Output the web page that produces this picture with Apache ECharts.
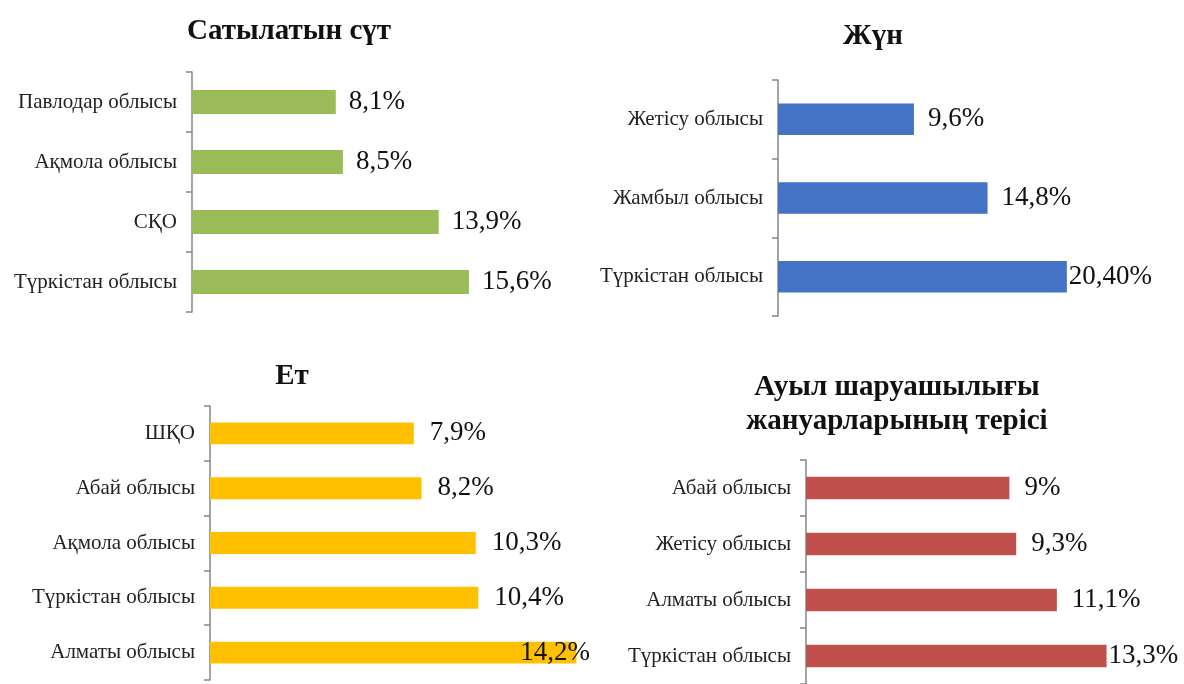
<!DOCTYPE html>
<html>
<head>
  <meta charset="utf-8">
  <title>Аймақтар</title>
  <script src="https://cdn.jsdelivr.net/npm/echarts@6/dist/echarts.min.js"></script>
  <style>
    body { margin: 0; background: #fff; }
    #chart { width: 1184px; height: 684px; }
  </style>
</head>
<body>
  <div id="chart"></div>
  <script>
    // Сатылатын сүт
    const milkRegions = ['Павлодар облысы', 'Ақмола облысы', 'СҚО', 'Түркістан облысы'];
    const milkValues = [8.1, 8.5, 13.9, 15.6];
    const milkLabels = ['8,1%', '8,5%', '13,9%', '15,6%'];

    // Жүн
    const woolRegions = ['Жетісу облысы', 'Жамбыл облысы', 'Түркістан облысы'];
    const woolValues = [9.6, 14.8, 20.4];
    const woolLabels = ['9,6%', '14,8%', '20,40%'];

    // Ет
    const meatRegions = ['ШҚО', 'Абай облысы', 'Ақмола облысы', 'Түркістан облысы', 'Алматы облысы'];
    const meatValues = [7.9, 8.2, 10.3, 10.4, 14.2];
    const meatLabels = ['7,9%', '8,2%', '10,3%', '10,4%', '14,2%'];

    // Ауыл шаруашылығы жануарларының терісі
    const hideRegions = ['Абай облысы', 'Жетісу облысы', 'Алматы облысы', 'Түркістан облысы'];
    const hideValues = [9, 9.3, 11.1, 13.3];
    const hideLabels = ['9%', '9,3%', '11,1%', '13,3%'];

    const SERIF = '"Liberation Serif", "DejaVu Serif", serif';

    // grid placement and label tweaks per panel
    const panels = [
      { cats: milkRegions, vals: milkValues, labels: milkLabels, color: '#9BBB59',
        grid: { left: 192, top: 72, width: 355, height: 240 }, max: 20, dist: 13, tight: [] },
      { cats: woolRegions, vals: woolValues, labels: woolLabels, color: '#4472C4',
        grid: { left: 778, top: 80, width: 354, height: 236 }, max: 25, dist: 14, tight: [2] },
      { cats: meatRegions, vals: meatValues, labels: meatLabels, color: '#FFC000',
        grid: { left: 210, top: 406, width: 387, height: 274 }, max: 15, dist: 16, tight: [], inside: [4] },
      { cats: hideRegions, vals: hideValues, labels: hideLabels, color: '#C0504D',
        grid: { left: 806, top: 460, width: 339, height: 228 }, max: 15, dist: 15, tight: [3] }
    ];

    const grids = [], xAxes = [], yAxes = [], series = [];
    panels.forEach((p, i) => {
      grids.push(Object.assign({ containLabel: false }, p.grid));
      xAxes.push({ type: 'value', gridIndex: i, min: 0, max: p.max, show: false });
      yAxes.push({
        type: 'category', gridIndex: i, data: p.cats, inverse: true,
        axisLine: { show: true, lineStyle: { color: '#868686', width: 1.5 } },
        axisTick: { show: true, length: 6, alignWithLabel: false, lineStyle: { color: '#868686', width: 1.5 } },
        axisLabel: { fontFamily: SERIF, fontSize: 21, color: '#222', margin: 15 }
      });
      series.push({
        type: 'bar', xAxisIndex: i, yAxisIndex: i, barWidth: '40%',
        itemStyle: { color: p.color },
        label: {
          show: true, position: 'right', distance: p.dist,
          fontFamily: SERIF, fontSize: 27, color: '#111',
          formatter: (d) => p.labels[d.dataIndex]
        },
        data: p.vals.map((v, k) => {
          if (p.tight.includes(k)) return { value: v, label: { distance: 2 } };
          if (p.inside && p.inside.includes(k)) return { value: v, label: { offset: [-72, 0] } };
          return v;
        })
      });
    });

    const titleStyle = { fontFamily: SERIF, fontSize: 29, fontWeight: 'bold', color: '#111' };
    const titles = [
      { text: 'Сатылатын сүт', left: 284, top: 10 },
      { text: 'Жүн', left: 868, top: 15 },
      { text: 'Ет', left: 287, top: 355 },
      { text: 'Ауыл шаруашылығы\nжануарларының терісі', left: 892, top: 366 }
    ].map(t => Object.assign(t, { textAlign: 'center', textStyle: Object.assign({ lineHeight: 34 }, titleStyle) }));

    const myChart = echarts.init(document.getElementById('chart'));
    myChart.setOption({
      animation: false,
      title: titles,
      grid: grids,
      xAxis: xAxes,
      yAxis: yAxes,
      series: series
    });
  </script>
</body>
</html>
